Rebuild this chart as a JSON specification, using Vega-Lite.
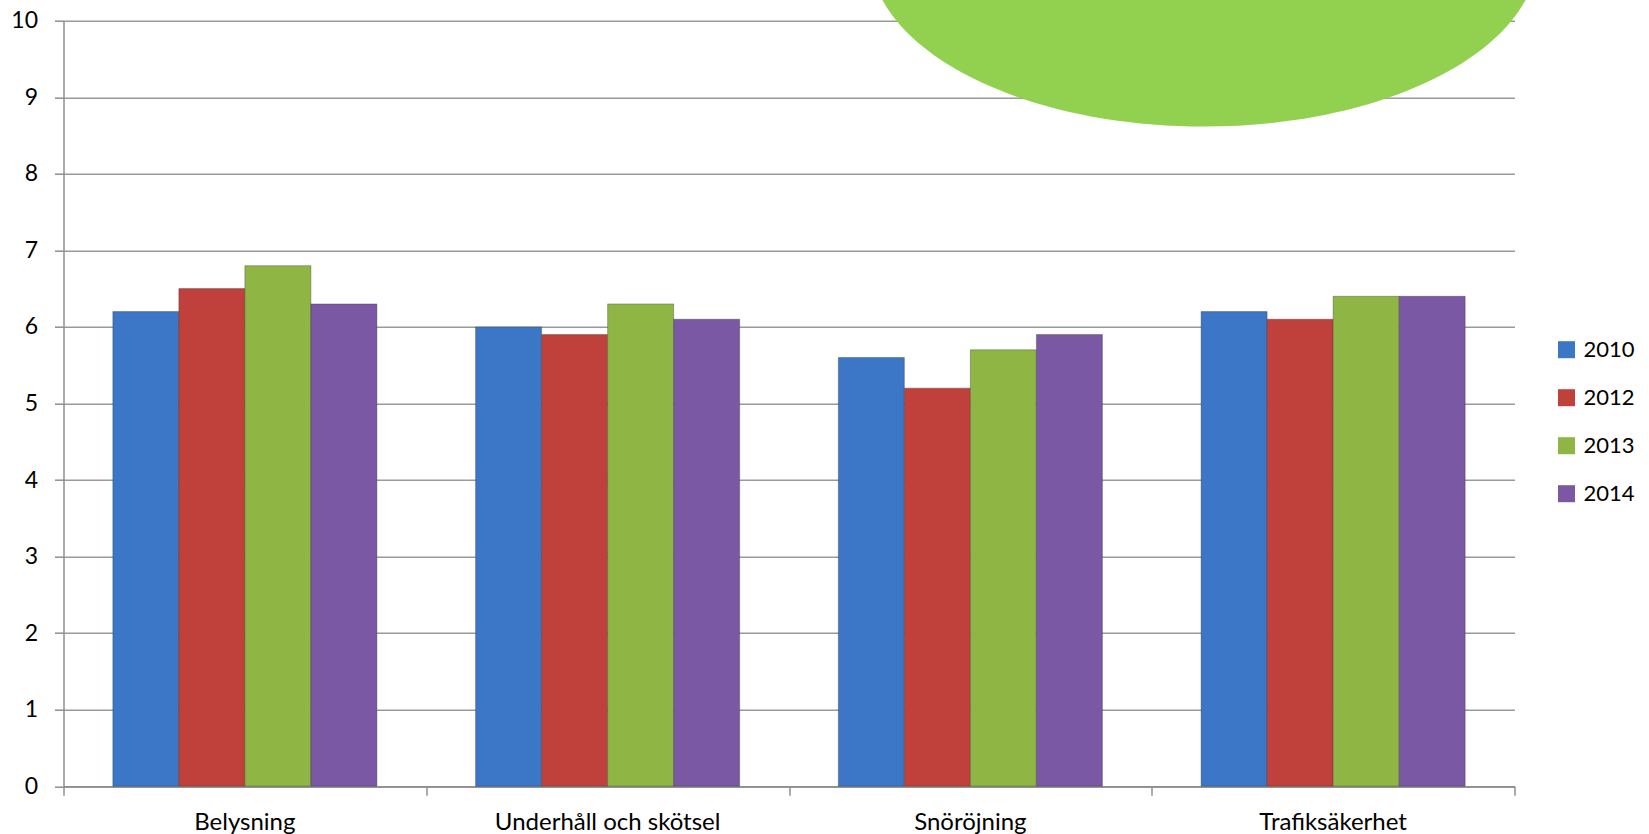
{
  "$schema": "https://vega.github.io/schema/vega-lite/v6.json",
  "width": 1451,
  "height": 765.5,
  "autosize": {"type": "none"},
  "padding": {"left": 63.5, "top": 20.7, "right": 134.5, "bottom": 47.8},
  "background": "white",
  "config": {
    "view": {"stroke": null},
    "font": "Lato",
    "axis": {
      "domainColor": "#8f8f8f",
      "tickColor": "#8f8f8f",
      "gridColor": "#9a9a9a",
      "domainWidth": 1.5,
      "tickWidth": 1.5,
      "gridWidth": 1.5,
      "labelColor": "#000000",
      "labelFont": "Lato",
      "tickSize": 9
    }
  },
  "layer": [
    {
      "data": {
        "values": [
          {"kategori": "Belysning", "year": "2010", "value": 6.2},
          {"kategori": "Belysning", "year": "2012", "value": 6.5},
          {"kategori": "Belysning", "year": "2013", "value": 6.8},
          {"kategori": "Belysning", "year": "2014", "value": 6.3},
          {"kategori": "Underhåll och skötsel", "year": "2010", "value": 6.0},
          {"kategori": "Underhåll och skötsel", "year": "2012", "value": 5.9},
          {"kategori": "Underhåll och skötsel", "year": "2013", "value": 6.3},
          {"kategori": "Underhåll och skötsel", "year": "2014", "value": 6.1},
          {"kategori": "Snöröjning", "year": "2010", "value": 5.6},
          {"kategori": "Snöröjning", "year": "2012", "value": 5.2},
          {"kategori": "Snöröjning", "year": "2013", "value": 5.7},
          {"kategori": "Snöröjning", "year": "2014", "value": 5.9},
          {"kategori": "Trafiksäkerhet", "year": "2010", "value": 6.2},
          {"kategori": "Trafiksäkerhet", "year": "2012", "value": 6.1},
          {"kategori": "Trafiksäkerhet", "year": "2013", "value": 6.4},
          {"kategori": "Trafiksäkerhet", "year": "2014", "value": 6.4}
        ]
      },
      "mark": {"type": "bar", "stroke": "#333333", "strokeOpacity": 0.35, "strokeWidth": 1},
      "encoding": {
        "x": {
          "field": "kategori",
          "type": "nominal",
          "sort": ["Belysning", "Underhåll och skötsel", "Snöröjning", "Trafiksäkerhet"],
          "scale": {"paddingInner": 0.272, "paddingOuter": 0.136},
          "axis": {"title": null, "labelAngle": 0, "labelPadding": 24, "labelFontSize": 24, "labelLimit": 0, "ticks": false, "grid": false, "orient": "bottom"}
        },
        "xOffset": {"field": "year", "type": "nominal", "sort": ["2010", "2012", "2013", "2014"]},
        "y": {
          "field": "value",
          "type": "quantitative",
          "scale": {"domain": [0, 10], "nice": false},
          "axis": {"title": null, "values": [0, 1, 2, 3, 4, 5, 6, 7, 8, 9, 10], "format": "d", "grid": true, "labelPadding": 17, "labelFontSize": 23}
        },
        "color": {
          "field": "year",
          "type": "nominal",
          "scale": {"domain": ["2010", "2012", "2013", "2014"], "range": ["#3b77c6", "#c0403c", "#8fb545", "#7a58a3"]},
          "legend": {
            "title": null,
            "orient": "none",
            "legendX": 1492,
            "legendY": 318,
            "symbolType": "square",
            "symbolSize": 289,
            "symbolStrokeWidth": 0,
            "labelFontSize": 22,
            "labelColor": "#000000",
            "rowPadding": 26,
            "labelOffset": 6
          }
        }
      }
    },
    {
      "data": {"values": [{"ex": 3.144, "ey": 10.886}]},
      "mark": {
        "type": "point",
        "filled": true,
        "opacity": 1,
        "color": "#92d050",
        "shape": "M -1 0 A 1 0.52 0 1 0 1 0 A 1 0.52 0 1 0 -1 0 Z",
        "size": 446224,
        "strokeWidth": 0
      },
      "encoding": {
        "x": {
          "field": "ex",
          "type": "quantitative",
          "scale": {"domain": [0, 4], "nice": false, "zero": false},
          "axis": {"orient": "bottom", "values": [0, 1, 2, 3, 4], "labels": false, "domain": false, "grid": false, "ticks": true, "title": null}
        },
        "y": {"field": "ey", "type": "quantitative"}
      }
    }
  ],
  "resolve": {"scale": {"x": "independent"}}
}
